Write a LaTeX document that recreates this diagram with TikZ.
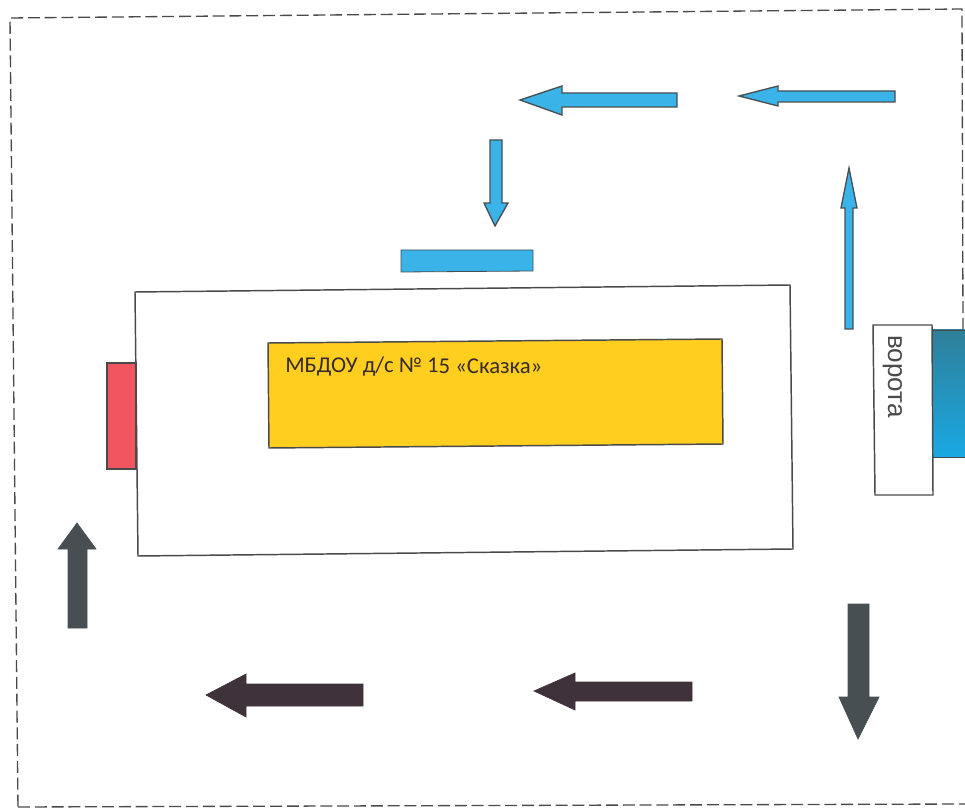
\documentclass[tikz,border=0pt]{standalone}
\usepackage{fontspec}
\setmainfont{Carlito}
\newfontfamily\gatefont{Liberation Sans}
\definecolor{arrowblue}{HTML}{3AB4E8}
\definecolor{arrowslate}{HTML}{474F53}
\definecolor{arrowplum}{HTML}{40323A}
\definecolor{edgegray}{HTML}{4A4A4A}
\definecolor{bargold}{HTML}{FFCE1E}
\definecolor{barred}{HTML}{F25560}
\definecolor{bandtop}{HTML}{2F7F99}
\definecolor{bandbot}{HTML}{19A9E3}
\tikzset{
  outline/.style={draw=edgegray,line width=1.1pt},
  bluearrow/.style={fill=arrowblue,draw=arrowslate,line width=1pt,line join=miter},
  slatearrow/.style={fill=arrowslate,draw=arrowslate,line width=.5pt},
  plumarrow/.style={fill=arrowplum,draw=arrowplum,line width=.5pt},
  border/.style={draw=edgegray,line width=1pt,dash pattern=on 9pt off 3.6pt},
}
\begin{document}
\begin{tikzpicture}[x=.75pt,y=-.75pt]
\useasboundingbox (0,0) rectangle (965,809);
\fill[white] (0,0) rectangle (965,809);
% border
\draw[border] (963,330) -- (962,9) -- (10,18) -- (18,809);
\draw[border] (18,807) -- (965,804);
% blue arrows
\draw[bluearrow] (520,100) -- (562,86) -- (562,93) -- (677,93) -- (677,107) -- (562,107) -- (562,115) -- cycle;
\draw[bluearrow] (739,96) -- (778,86) -- (778,91) -- (895,91) -- (895,102) -- (778,102) -- (778,106) -- cycle;
\draw[bluearrow] (495,226) -- (484,203) -- (490,203) -- (490,140) -- (502,140) -- (502,203) -- (508,203) -- cycle;
\draw[bluearrow] (849,168) -- (841,208) -- (845,208) -- (845,329) -- (853,329) -- (853,208) -- (857,208) -- cycle;
\draw[fill=arrowblue,draw=arrowslate,line width=.6pt] (401,250) -- (533,250) -- (533,271) -- (401,272) -- cycle;
% building
\draw[outline,fill=white] (135,292) -- (790,285) -- (793,549) -- (138,556) -- cycle;
\draw[outline,fill=bargold] (268,343) -- (722,339) -- (723,444) -- (269,448) -- cycle;
\node[text=arrowplum!85!black,font=\fontsize{17pt}{20pt}\selectfont,anchor=base west,inner sep=0pt,rotate=-0.4] (title) at (285,372) {МБДОУ д/с № 15 «Сказка»};
\draw[outline,fill=barred] (107,363) -- (136,363) -- (136,469) -- (107,469) -- cycle;
% gate
\shade[top color=bandtop,bottom color=bandbot] (933,330) rectangle (965,457);
\draw[draw=edgegray,line width=.6pt] (933,330) -- (965,330) (933,457) -- (965,457);
\draw[outline,fill=white] (873,325) -- (932,325) -- (933,495) -- (875,495) -- cycle;
\node[text=edgegray,font=\gatefont\fontsize{19.5pt}{22pt}\selectfont,rotate=-90,anchor=base west,inner sep=0pt] (gate) at (888,335) {ворота};
% dark arrows
\draw[slatearrow] (77,523) -- (58,549) -- (68,549) -- (68,628) -- (87,628) -- (87,549) -- (96,549) -- cycle;
\draw[plumarrow] (206,695) -- (246,674) -- (246,684) -- (363,684) -- (363,706) -- (246,706) -- (246,717) -- cycle;
\draw[plumarrow] (534,691) -- (575,673) -- (575,682) -- (692,682) -- (692,701) -- (575,701) -- (575,710) -- cycle;
\draw[slatearrow] (858,739) -- (839,697) -- (848,697) -- (848,604) -- (869,604) -- (869,697) -- (879,697) -- cycle;
\end{tikzpicture}
\end{document}
